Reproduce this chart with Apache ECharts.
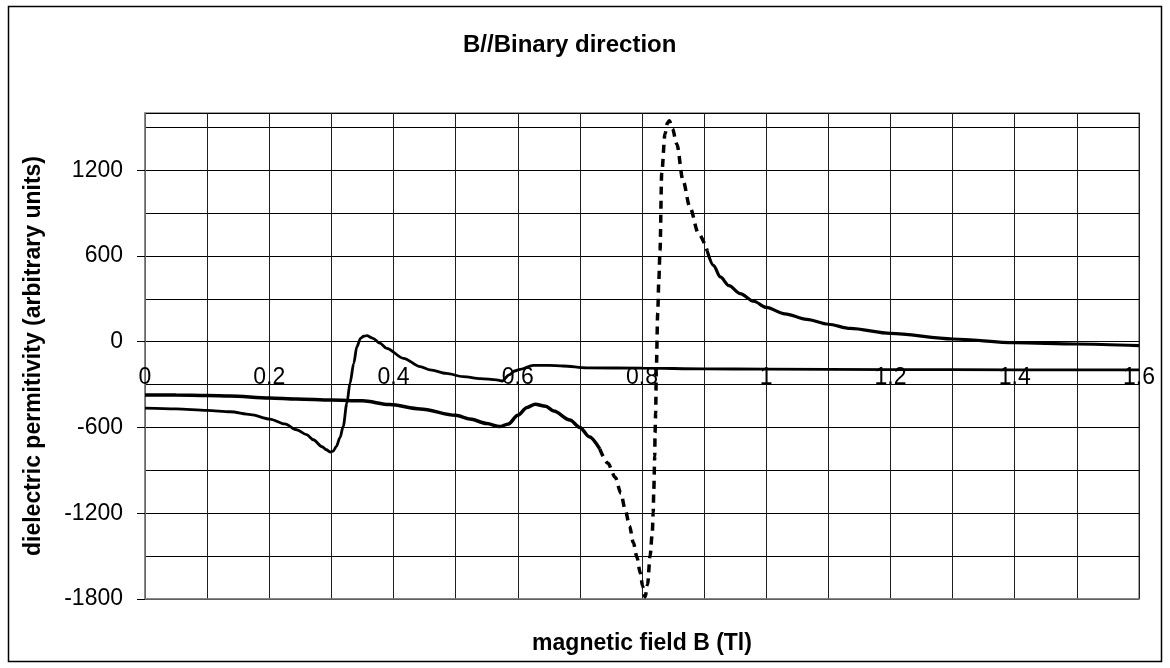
<!DOCTYPE html>
<html>
<head>
<meta charset="utf-8">
<script src="https://cdn.jsdelivr.net/npm/echarts@6/dist/echarts.min.js"></script>
<style>
  html, body { margin: 0; padding: 0; background: #fff; }
  #chart { width: 1170px; height: 668px; }
</style>
</head>
<body>
<div id="chart"></div>
<script>
// Magnetic field B (Tl) and dielectric permittivity readings.

// Upper-left branch: thick curve, field up to the start of the resonance
const fieldA1 = [0, 0.05, 0.1, 0.137, 0.2, 0.244, 0.3, 0.35, 0.394, 0.443, 0.5, 0.523, 0.55, 0.571, 0.585, 0.6, 0.615, 0.628, 0.645, 0.658, 0.684, 0.7, 0.715, 0.732];
const epsA1   = [-372, -373, -376, -379, -393, -400, -408, -413, -440, -470, -515, -541, -572, -594, -575, -515, -460, -437, -452, -485, -548, -600, -665, -750];

// Resonance region, drawn dashed
const fieldA2 = [0.732, 0.745, 0.757, 0.766, 0.773, 0.78, 0.786, 0.792, 0.797, 0.801, 0.805, 0.809, 0.813, 0.8166, 0.818, 0.819, 0.8205, 0.821, 0.822, 0.823, 0.8253, 0.827, 0.829, 0.8317, 0.837, 0.841, 0.844, 0.849, 0.856, 0.866, 0.877, 0.891, 0.905];
const epsA2   = [-750, -850, -950, -1060, -1175, -1290, -1405, -1510, -1615, -1710, -1785, -1700, -1500, -1335, -1197, -1035, -800, -637, -500, -200, 198, 420, 640, 1175, 1454, 1530, 1545, 1490, 1384, 1128, 942, 756, 635];

// High-field tail
const fieldA3 = [0.905, 0.915, 0.926, 0.94, 0.958, 0.98, 1.0, 1.03, 1.065, 1.1, 1.135, 1.2, 1.3, 1.4, 1.5, 1.6];
const epsA3   = [635, 535, 453, 392, 337, 283, 240, 195, 156, 122, 93, 58, 19, -7, -16, -28];

// Second curve (thinner solid line)
const fieldB = [0, 0.05, 0.1, 0.137, 0.17, 0.201, 0.225, 0.244, 0.26, 0.271, 0.285, 0.292, 0.298, 0.303, 0.308, 0.314, 0.319, 0.325, 0.33, 0.336, 0.341, 0.347, 0.352, 0.357, 0.367, 0.378, 0.389, 0.416, 0.443, 0.459, 0.485, 0.512, 0.54, 0.566, 0.575, 0.586, 0.595, 0.604, 0.625, 0.65, 0.673, 0.711, 0.8, 0.9, 1.0, 1.2, 1.4, 1.6];
const epsB   = [-465, -470, -480, -490, -510, -541, -575, -616, -650, -686, -735, -756, -772, -765, -733, -670, -593, -430, -290, -151, -35, 24, 38, 42, 24, -10, -46, -116, -174, -197, -222, -244, -258, -267, -275, -232, -205, -193, -165, -165, -170, -183, -185, -190, -192, -195, -197, -197];

// Axis ticks
const yLabelValues = [-1800, -1200, -600, 0, 600, 1200];
const xLabelValues = [0, 0.2, 0.4, 0.6, 0.8, 1, 1.2, 1.4, 1.6];

const titleText = 'B//Binary direction';
const xName = 'magnetic field B (Tl)';
const yName = 'dielectric permitivity (arbitrary units)';

const zip = (xs, ys) => xs.map((x, i) => [x, ys[i]]);
const FONT = "'Liberation Sans', Arial, sans-serif";
const Y_MIN = -1800, Y_MAX = 1600;

const chart = echarts.init(document.getElementById('chart'), null, { renderer: 'canvas' });

const lineSeries = (data, width, type) => ({
  type: 'line',
  data: data,
  xAxisIndex: 0,
  yAxisIndex: 0,
  showSymbol: false,
  symbol: 'none',
  smooth: 0.3,
  smoothMonotone: 'x',
  lineStyle: { color: '#000', width: width, type: type },
  silent: true
});

chart.setOption({
  animation: false,
  backgroundColor: '#fff',
  title: {
    text: titleText,
    left: 463,
    top: 33,
    padding: 0,
    textStyle: { fontFamily: FONT, fontSize: 24, fontWeight: 'bold', color: '#000' }
  },
  graphic: [{
    type: 'rect',
    shape: { x: 8.5, y: 6.5, width: 1153, height: 655 },
    style: { fill: 'none', stroke: '#000', lineWidth: 1.5 },
    silent: true,
    z: -1
  }],
  grid: {
    left: 145, right: 31, top: 113, bottom: 69,
    containLabel: false,
    outerBoundsMode: 'none',
    show: true,
    borderColor: '#808080',
    borderWidth: 1.5,
    backgroundColor: 'transparent'
  },
  xAxis: {
    type: 'value',
    min: 0, max: 1.6, interval: 0.1,
    axisLine: { onZero: false, lineStyle: { color: '#808080', width: 1.5 } },
    axisTick: { show: false },
    axisLabel: {
      // labels sit just under the zero line, inside the plot
      margin: -233,
      fontFamily: FONT, fontSize: 23, color: '#000',
      customValues: xLabelValues,
      formatter: v => String(parseFloat(v.toFixed(1)))
    },
    splitLine: { show: true, lineStyle: { color: '#1e1e1e', width: 1 } },
    name: xName,
    nameLocation: 'middle',
    nameGap: 33,
    nameTextStyle: { fontFamily: FONT, fontSize: 23, fontWeight: 'bold', color: '#000' }
  },
  yAxis: [{
    type: 'value',
    min: Y_MIN, max: Y_MAX, interval: 300,
    axisLine: { show: true, onZero: false, lineStyle: { color: '#808080', width: 1.5 } },
    axisTick: { show: false },
    axisLabel: {
      margin: 22,
      fontFamily: FONT, fontSize: 23, color: '#000',
      customValues: yLabelValues,
      formatter: v => String(v)
    },
    splitLine: { show: true, lineStyle: { color: '#000', width: 1 } },
    name: yName,
    nameLocation: 'middle',
    nameRotate: 90,
    nameGap: 100,
    nameTextStyle: { fontFamily: FONT, fontSize: 23, fontWeight: 'bold', color: '#000' }
  }, {
    // major tick marks only, on the left edge
    type: 'value',
    position: 'left',
    min: Y_MIN, max: Y_MAX, interval: 600,
    axisLine: { show: false, onZero: false },
    axisTick: { show: true, length: 8, customValues: yLabelValues, lineStyle: { color: '#000', width: 1 } },
    axisLabel: { show: false },
    splitLine: { show: false }
  }],
  series: [
    lineSeries(zip(fieldA1, epsA1), 3.5, 'solid'),
    lineSeries(zip(fieldA2, epsA2), 3.5, [8, 6]),
    lineSeries(zip(fieldA3, epsA3), 3.2, 'solid'),
    lineSeries(zip(fieldB, epsB), 2.8, 'solid')
  ]
});
</script>
</body>
</html>
